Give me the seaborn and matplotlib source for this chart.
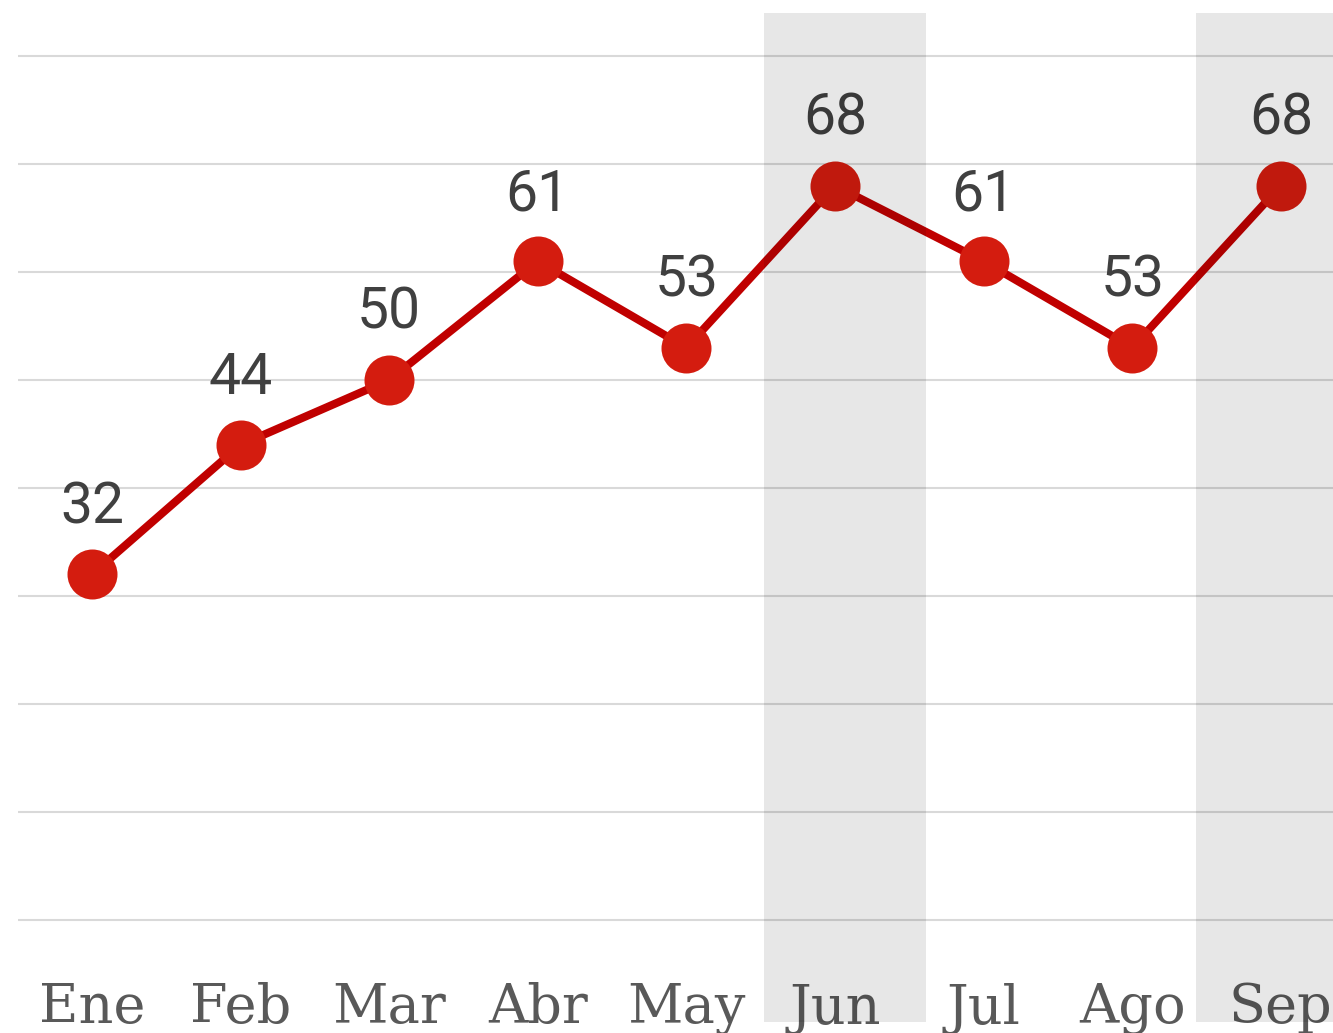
import numpy as np
import pandas as pd
import seaborn as sns
import matplotlib.pyplot as plt

# datos
meses = ['Ene', 'Feb', 'Mar', 'Abr', 'May', 'Jun', 'Jul', 'Ago', 'Sep']
valores = [32, 44, 50, 61, 53, 68, 61, 53, 68]
resaltados = ['Jun', 'Sep']
grid_vals = [0, 10, 20, 30, 40, 50, 60, 70, 80]

sns.set_theme(style='white')
plt.rcParams['font.family'] = ['Roboto', 'DejaVu Sans']

df = pd.DataFrame({'mes': meses, 'valor': valores})
df['pos'] = np.arange(len(meses))

fig = plt.figure(figsize=(13.33, 10.33), dpi=100)
ax = fig.add_axes([0, 0, 1, 1])

xmin, xmax = -0.619, 8.351
ymin, ymax = -10.46, 85.19
ax.set_xlim(xmin, xmax)
ax.set_ylim(ymin, ymax)

# lineas de fondo
ax.hlines(grid_vals, -0.5, xmax, color='#d9d9d9', lw=1.5, zorder=0)

sns.lineplot(data=df, x='pos', y='valor', ax=ax, color='#c00000', lw=5.8,
             marker='o', markersize=36, markerfacecolor='#d41c0f',
             markeredgewidth=0, zorder=3)

for i, v in enumerate(valores):
    ax.annotate(str(v), (i, v), xytext=(0, 48), textcoords='offset points',
                ha='center', va='center', fontsize=41, color='#404040',
                family=['Roboto', 'DejaVu Sans'], zorder=4)

for i, m in enumerate(meses):
    ax.text(i, -9.54, m, ha='center', va='baseline', fontsize=39,
            color='#595959', family=['DejaVu Serif'], zorder=4)

# bandas sombreadas
bandas = {'Jun': (4.522, 5.612), 'Sep': (7.43, 9.0)}
for m in resaltados:
    a, b = bandas[m]
    ax.axvspan(a, b, ymin=0.0106, ymax=0.987, color='black', alpha=0.095,
               lw=0, zorder=5)

ax.axis('off')
fig.savefig('out.png', dpi=100)
